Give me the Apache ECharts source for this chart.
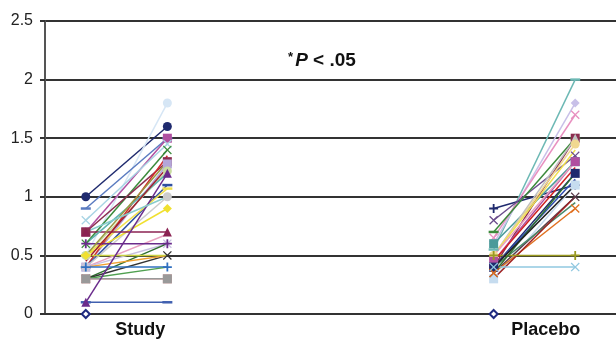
<!DOCTYPE html>
<html>
<head>
<meta charset="utf-8">
<script src="https://cdn.jsdelivr.net/npm/echarts@6/dist/echarts.min.js"></script>
<style>
  html, body { margin: 0; padding: 0; background: #fff; }
  #chart { width: 616px; height: 339px; }
</style>
</head>
<body>
<div id="chart"></div>
<script>
// Category slots: pre/post for each group, with empty slots between the groups
const categories = ['', 'Study', '', '', '', '', 'Placebo'];
const yTicks = [0, 0.5, 1, 1.5, 2, 2.5];

// Per-subject values, before (pre) and after (post)
const studyPre  = [1.0, 0.5, 0.9, 0.7, 0.8, 0.6, 0.7, 0.4, 0.5, 0.4, 0.4, 0.5, 0.4, 0.5, 0.7, 0.4, 0.4, 0.6, 0.3, 0.3, 0.4, 0.5, 0.4, 0.3, 0.3, 0.3, 0.1, 0.1, 0.6, 0.5, 0.45, 0.7];
const studyPost = [1.6, 1.8, 1.5, 1.5, 1.45, 1.4, 1.3, 1.28, 1.22, 1.35, 1.1, 1.07, 1.0, 0.9, 0.7, 0.68, 0.6, 0.6, 0.6, 0.5, 0.5, 0.5, 0.4, 0.4, 0.3, 0.3, 0.1, 1.2, 1.2, 1.3, 1.25, 1.0];

const placeboPre  = [0.55, 0.6, 0.65, 0.9, 0.8, 0.7, 0.6, 0.4, 0.5, 0.5, 0.45, 0.4, 0.3, 0.35, 0.4, 0.35, 0.3, 0.5, 0.4, 0.5, 0.45, 0.4, 0.35, 0.5, 0.4];
const placeboPost = [2.0, 1.8, 1.7, 1.1, 1.35, 1.5, 1.3, 1.5, 1.5, 1.45, 1.3, 1.2, 1.1, 1.0, 0.95, 0.9, 1.0, 0.5, 0.4, 1.4, 1.25, 1.15, 1.2, 1.3, 1.1];

// Baseline marker at zero under each group's first slot
const baseline = [0, null, null, null, null, 0, null];

// Marker shapes
const X = 'path://M0,1L1,0L5,4L9,0L10,1L6,5L10,9L9,10L5,6L1,10L0,9L4,5Z';
const PLUS = 'path://M4,0H6V4H10V6H6V10H4V6H0V4H4Z';
const DASH = 'path://M0,0H10V2H0Z';

const studyStyle = [
  ['#1f2a6e', 'circle'], ['#d6e6f5', 'circle'], ['#5a7bc0', DASH], ['#b04fa0', 'rect'],
  ['#a8d4e4', X], ['#3b8a3b', X], ['#8b2d4f', 'rect'], ['#b4a6d8', 'rect'],
  ['#c8dca0', 'circle'], ['#d22a2a', 'none'], ['#3050a0', DASH], ['#f0e050', DASH],
  ['#cccccc', 'circle'], ['#f0e030', 'diamond'], ['#8b2252', 'triangle'], ['#e8a0c0', 'none'],
  ['#c8c0e0', X], ['#6a2c8c', PLUS], ['#2f6f2f', 'none'], ['#333333', X],
  ['#f0a030', 'none'], ['#c8d040', 'none'], ['#3070c0', PLUS], ['#50a050', 'none'],
  ['#e09090', 'rect'], ['#999999', 'rect'], ['#4060b0', DASH], ['#6a2c8c', 'triangle'],
  ['#5fb3b0', 'none'], ['#9a9a40', 'none'], ['#a02030', 'none'], ['#88cccc', 'none']
];
const placeboStyle = [
  ['#6cb8b4', DASH], ['#c8c0e8', 'diamond'], ['#e890c0', X], ['#1f2a6e', PLUS],
  ['#6a4c8c', X], ['#3b8a3b', DASH], ['#4a9a9a', 'rect'], ['#8b2d4f', 'rect'],
  ['#c0c0c0', 'triangle'], ['#f0d890', 'circle'], ['#b04fa0', 'rect'], ['#1f2a6e', 'rect'],
  ['#c6dcef', 'rect'], ['#5a3a4a', X], ['#4a8a6a', 'none'], ['#e07020', X],
  ['#a02020', 'none'], ['#9a9a20', PLUS], ['#90c8e0', X], ['#f0e050', 'none'],
  ['#d02020', 'none'], ['#3050b0', 'none'], ['#2f6f2f', 'none'], ['#e8a0c0', 'none'],
  ['#222222', 'none']
];

function pairSeries(pre, post, styles, offset) {
  return pre.map((v, i) => {
    const data = categories.map(() => null);
    data[offset] = v;
    data[offset + 1] = post[i];
    const [color, symbol] = styles[i % styles.length];
    return {
      type: 'line',
      data: data,
      symbol: symbol,
      symbolSize: symbol === DASH ? [10, 2.5] : 9,
      showSymbol: symbol !== 'none',
      lineStyle: { width: 1.5, color: color },
      itemStyle: { color: color },
      emphasis: { disabled: true },
      animation: false,
      z: 3
    };
  });
}

const series = [
  ...pairSeries(studyPre, studyPost, studyStyle, 0),
  ...pairSeries(placeboPre, placeboPost, placeboStyle, 5),
  {
    type: 'line',
    data: baseline,
    symbol: 'emptyDiamond',
    symbolSize: 8,
    itemStyle: { color: '#1f2a80', borderWidth: 1.5 },
    lineStyle: { width: 0 },
    animation: false,
    z: 4
  }
];

const font = 'Liberation Sans';
const chart = echarts.init(document.getElementById('chart'), null, { renderer: 'canvas' });
chart.setOption({
  backgroundColor: '#ffffff',
  animation: false,
  title: {
    left: 317,
    top: 46,
    textAlign: 'center',
    text: '{a|*}{b|P}{c| < .05}',
    textStyle: {
      rich: {
        a: { fontFamily: font, fontSize: 13, fontWeight: 'bold', color: '#111', verticalAlign: 'top', padding: [0, 2, 5, 0] },
        b: { fontFamily: font, fontSize: 19, fontWeight: 'bold', fontStyle: 'italic', color: '#111' },
        c: { fontFamily: font, fontSize: 19, fontWeight: 'bold', color: '#111' }
      }
    }
  },
  grid: { left: 45, right: 0, top: 21, bottom: 25, containLabel: false },
  xAxis: {
    type: 'category',
    data: categories,
    boundaryGap: true,
    axisLine: { show: true, lineStyle: { color: '#333', width: 2 } },
    axisTick: { show: false },
    axisLabel: {
      interval: 0,
      margin: 7,
      formatter: (v) => v === 'Study' ? '{s|Study}' : (v === 'Placebo' ? '{p|Placebo}' : ''),
      rich: {
        s: { fontFamily: font, fontSize: 18, fontWeight: 'bold', color: '#111', padding: [0, 54, 0, 0] },
        p: { fontFamily: font, fontSize: 18, fontWeight: 'bold', color: '#111', padding: [0, 59, 0, 0] }
      }
    }
  },
  yAxis: {
    type: 'value',
    min: yTicks[0],
    max: yTicks[yTicks.length - 1],
    interval: 0.5,
    axisLine: { show: true, lineStyle: { color: '#555', width: 2 } },
    axisTick: { show: true, length: 5, lineStyle: { color: '#333', width: 2 } },
    axisLabel: { fontFamily: font, fontSize: 16, color: '#222', margin: 12 },
    splitLine: { show: true, lineStyle: { color: '#333', width: 2 } }
  },
  series: series
});
</script>
</body>
</html>
